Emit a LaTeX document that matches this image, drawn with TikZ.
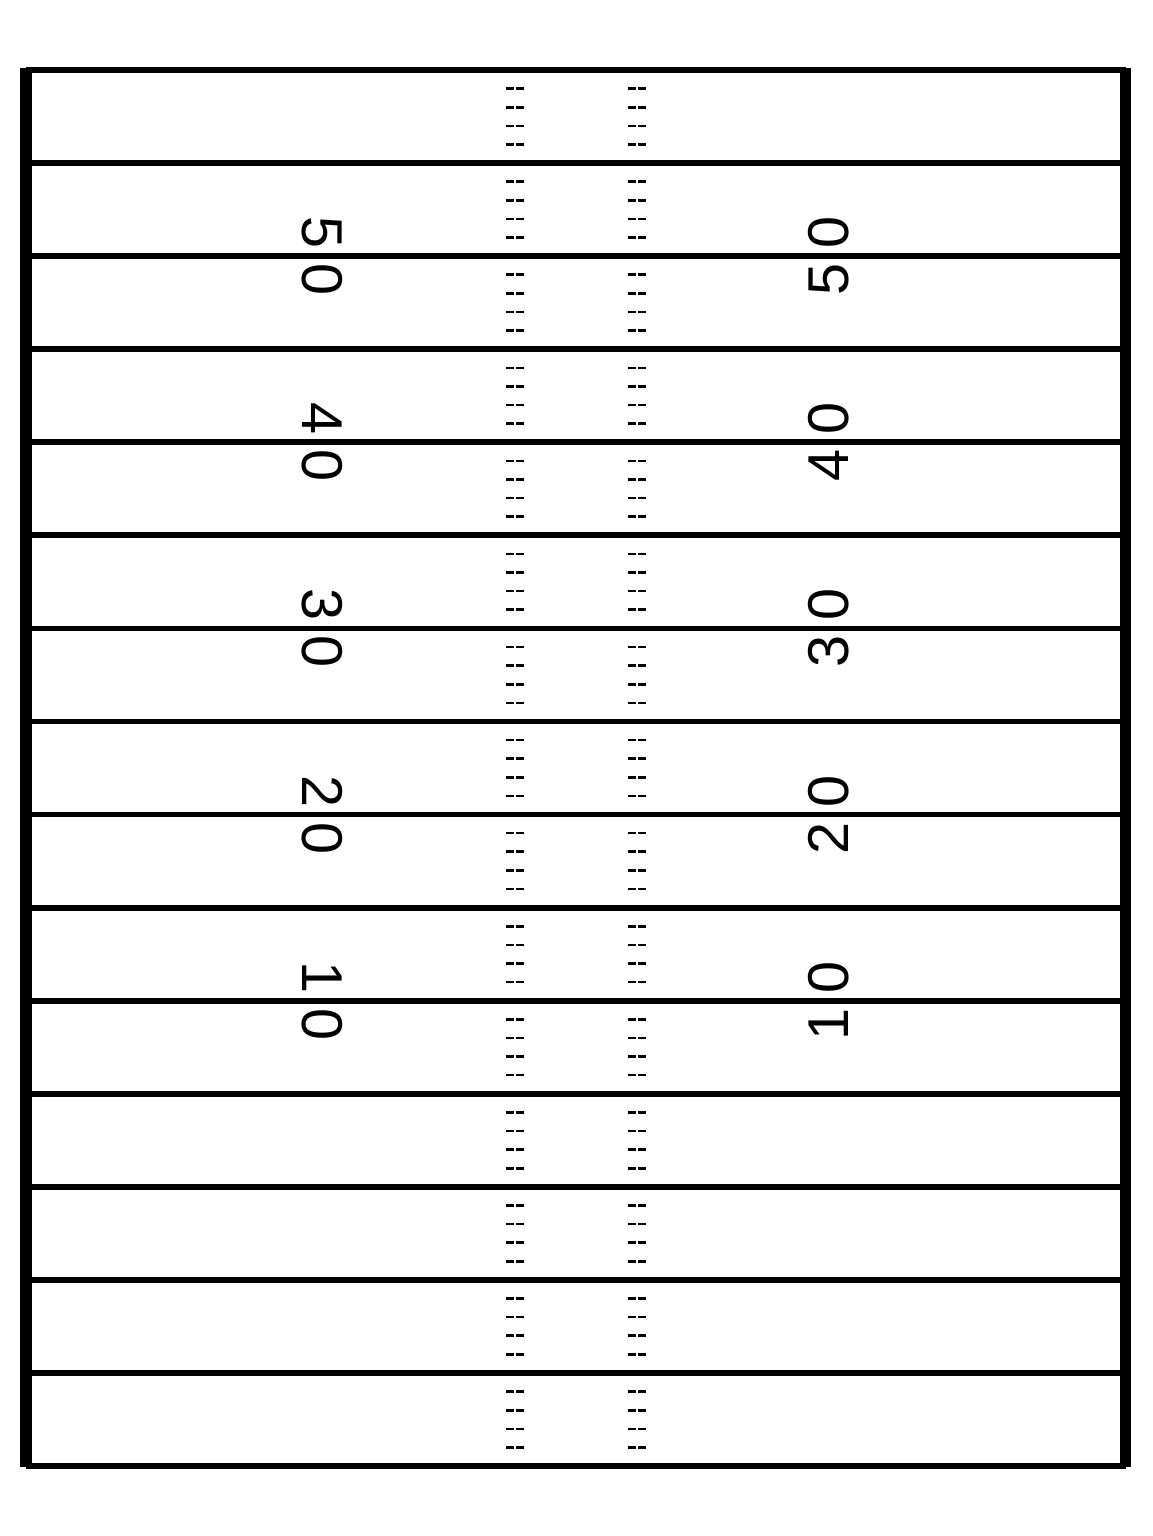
\documentclass[tikz,border=0pt]{standalone}
\usepackage{fontspec}
\setmainfont{Liberation Sans}
\begin{document}
\begin{tikzpicture}[x=0.5pt, y=0.5pt, declare function={L=26; R=1125.5; T=1466; B=70; h=93.07;}, line cap=butt, font={\fontsize{28.8}{30}\selectfont}]
		\useasboundingbox (0,0) rectangle (1152,1536);
		\foreach \k in {0,...,15} {
			\draw[line width=2.9pt] (L,T-\k*h) coordinate (y\k) -- (R,T-\k*h);
		}
		\draw[line width=5.9pt] (L,B-1.5) coordinate (sw) -- (L,T+1.5) coordinate (nw);
		\draw[line width=5.6pt] (R,B-1.5) coordinate (se) -- (R,T+1.5) coordinate (ne);
		\foreach \j in {0,...,14} {
			\foreach \i in {1,...,4} {
				\draw[line width=1.3pt, dash pattern=on 4pt off 1pt] (506,T-\j*h-\i*h/5) -- (524,T-\j*h-\i*h/5);
				\draw[line width=1.3pt, dash pattern=on 4pt off 1pt] (628,T-\j*h-\i*h/5) -- (646,T-\j*h-\i*h/5);
			}
		}
		\foreach \d [count=\c] in {5,4,3,2,1} {
			\node[rotate=-90, inner sep=0pt] (l\d0) at (322,T-2*\c*h) {\d\kern7.5pt 0};
			\node[rotate=90, inner sep=0pt] (r\d0) at (829,T-2*\c*h) {\d\kern7.5pt 0};
		}
\end{tikzpicture}
\end{document}
